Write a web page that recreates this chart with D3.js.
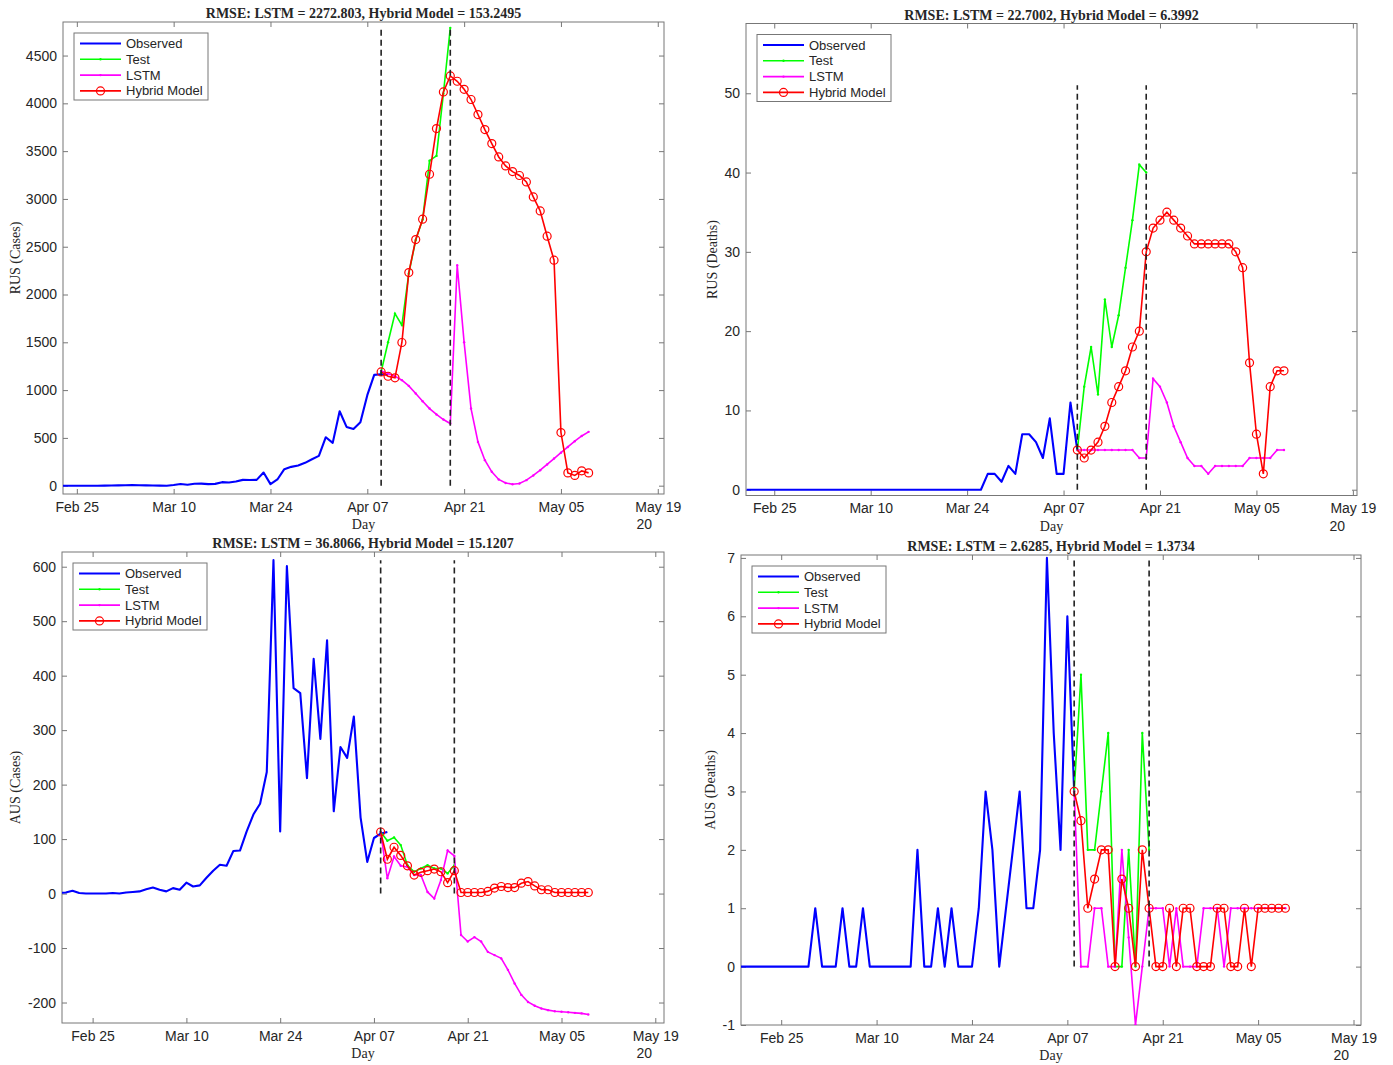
<!DOCTYPE html>
<html>
<head>
<meta charset="utf-8">
<script src="https://cdn.jsdelivr.net/npm/d3@7"></script>
<style>
body { margin: 0; background: #fff; }
svg text { fill: #262626; }
</style>
</head>
<body>
<svg id="chart" width="1393" height="1065"></svg>
<script>
// day numbers count from Feb 25 2020 (day 0), one value per day

var xTickDays = [0, 14, 28, 42, 56, 70, 84]
var legendLabels = ["Observed", "Test", "LSTM", "Hybrid Model"]

// RUS cases
var rusCasesTitle = "RMSE: LSTM = 2272.803, Hybrid Model = 153.2495"
var rusCasesObsStart = -2
var rusCasesObserved = [0, 0, 0, 0, 0, 0, 1, 2, 3, 5, 6, 4, 3, 2, 1, 0, 7, 17, 10, 20, 22, 16, 19, 37, 33, 44, 61, 60, 61, 138,
    16, 65, 173, 197, 211, 239, 277, 312, 507, 448, 779, 615, 594, 664, 947, 1159, 1166, 1160]
var rusCasesFcStart = 44
var rusCasesTest = [1190, 1500, 1800, 1680, 2220, 2570, 2785, 3400, 3450, 4100, 4790]
var rusCasesLSTM = [1201, 1174, 1145, 1104, 1044, 964, 884, 807, 745, 692, 650, 2306, 1500, 807, 458, 267, 145, 65, 28, 15,
    23, 58, 107, 162, 222, 284, 345, 405, 465, 520, 563]
var rusCasesHybrid = [1190, 1145, 1128, 1498, 2230, 2575, 2788, 3258, 3736, 4119, 4287, 4231, 4147, 4040, 3883, 3726, 3579,
    3439, 3345, 3286, 3245, 3178, 3021, 2874, 2610, 2359, 556, 134, 107, 155, 134]
var rusCasesCuts = [44, 54]
var rusCasesCutSpan = [0, 4800]

// RUS deaths
var rusDeathsTitle = "RMSE: LSTM = 22.7002, Hybrid Model = 6.3992"
var rusDeathsObsStart = -4
var rusDeathsObserved = [0, 0, 0, 0, 0, 0, 0, 0, 0, 0, 0, 0, 0, 0, 0, 0, 0, 0, 0, 0, 0, 0, 0, 0, 0, 0, 0, 0, 0, 0, 0, 0, 0, 0, 0,
    2, 2, 1, 3, 2, 7, 7, 6, 4, 9, 2, 2, 11, 5]
var rusDeathsFcStart = 44
var rusDeathsTest = [5, 13, 18, 12, 24, 18, 22, 28, 34, 41, 40]
var rusDeathsLSTM = [5, 5, 5, 5, 5, 5, 5, 5, 5, 4, 4, 14, 13, 11, 8, 6, 4, 3, 3, 2, 3, 3, 3, 3, 3, 4, 4, 4, 4, 5, 5]
var rusDeathsHybrid = [5, 4, 5, 6, 8, 11, 13, 15, 18, 20, 30, 33, 34, 35, 34, 33, 32, 31, 31, 31, 31, 31, 31, 30, 28, 16, 7, 2,
    13, 15, 15]
var rusDeathsCuts = [44, 54]
var rusDeathsCutSpan = [0, 51]

// AUS cases
var ausCasesTitle = "RMSE: LSTM = 36.8066, Hybrid Model = 15.1207"
var ausCasesObsStart = -5
var ausCasesObserved = [1, 2, 5, 1, 0, 0, 0, 0, 1, 0, 2, 3, 4, 8, 11, 7, 4, 10, 7, 20, 13, 15, 29, 42, 53, 51, 78, 79, 114, 145,
    165, 223, 612, 114, 601, 377, 368, 212, 431, 284, 465, 151, 269, 249, 325, 140, 58, 102, 110, 113]
var ausCasesFcStart = 43
var ausCasesTest = [113, 97, 103, 89, 52, 40, 46, 52, 46, 46, 37, 52]
var ausCasesLSTM = [113, 28, 68, 51, 49, 34, 34, 3, -9, 25, 79, 69, -76, -88, -80, -88, -107, -113, -119, -140, -165, -186,
    -199, -206, -211, -214, -216, -217, -218, -219, -220, -222]
var ausCasesHybrid = [113, 63, 85, 70, 51, 34, 39, 42, 45, 40, 20, 42, 2, 2, 2, 2, 4, 10, 13, 11, 11, 19, 22, 14, 7, 7, 2, 2,
    2, 2, 2, 2]
var ausCasesCuts = [43, 54]
var ausCasesCutSpan = [0, 612]

// AUS deaths
var ausDeathsTitle = "RMSE: LSTM = 2.6285, Hybrid Model = 1.3734"
var ausDeathsObsStart = -6
var ausDeathsObserved = [0, 0, 0, 0, 0, 0, 0, 0, 0, 0, 0, 1, 0, 0, 0, 1, 0, 0, 1, 0, 0, 0, 0, 0, 0, 0, 2, 0, 0, 1, 0, 1, 0, 0,
    0, 1, 3, 2, 0, 1, 2, 3, 1, 1, 2, 7, 4, 2, 6, 3]
var ausDeathsFcStart = 43
var ausDeathsTest = [3, 5, 2, 2, 3, 4, 0, 0, 2, 0, 4, 2]
var ausDeathsLSTM = [3, 0, 0, 1, 1, 0, 0, 2, 0.5, -1, 0, 1, 1, 1, 0, 1, 0, 0, 0, 1, 1, 1, 0, 1, 1, 1, 1, 1, 1, 1, 1, 1]
var ausDeathsHybrid = [3, 2.5, 1, 1.5, 2, 2, 0, 1.5, 1, 0, 2, 1, 0, 0, 1, 0, 1, 1, 0, 0, 0, 1, 1, 0, 0, 1, 0, 1, 1, 1, 1, 1]
var ausDeathsCuts = [43, 54]
var ausDeathsCutSpan = [0, 7]

var colors = { observed: "#0000ff", test: "#00ff00", lstm: "#ff00ff", hybrid: "#ff0000" }
var sansFont = "'Liberation Sans', Arial, Helvetica, sans-serif"
var serifFont = "'Liberation Serif', 'Times New Roman', serif"

var day0 = Date.UTC(2020, 1, 25)
function dayToDate(d) {
    return new Date(day0 + d * 864e5)
}

function series(values, start) {
    return values.map(function(v, i) { return { day: start + i, v: v } })
}

var panels = [
    { box: { l: 63, t: 22, r: 664, b: 494 }, xDom: [-2, 84.9], yDom: [-87, 4851], yTicks: d3.range(0, 4501, 500),
      title: rusCasesTitle, ylabel: "RUS (Cases)", ylabelX: 15,
      obs: series(rusCasesObserved, rusCasesObsStart), test: series(rusCasesTest, rusCasesFcStart),
      lstm: series(rusCasesLSTM, rusCasesFcStart), hybrid: series(rusCasesHybrid, rusCasesFcStart),
      cuts: rusCasesCuts, cutSpan: rusCasesCutSpan },
    { box: { l: 746, t: 23.5, r: 1357, b: 495.5 }, xDom: [-4.1, 84.6], yDom: [-0.73, 58.8], yTicks: d3.range(0, 51, 10),
      title: rusDeathsTitle, ylabel: "RUS (Deaths)", ylabelX: 712,
      obs: series(rusDeathsObserved, rusDeathsObsStart), test: series(rusDeathsTest, rusDeathsFcStart),
      lstm: series(rusDeathsLSTM, rusDeathsFcStart), hybrid: series(rusDeathsHybrid, rusDeathsFcStart),
      cuts: rusDeathsCuts, cutSpan: rusDeathsCutSpan },
    { box: { l: 62, t: 552, r: 664, b: 1023 }, xDom: [-4.57, 85.3], yDom: [-237.6, 627], yTicks: d3.range(-200, 601, 100),
      title: ausCasesTitle, ylabel: "AUS (Cases)", ylabelX: 15,
      obs: series(ausCasesObserved, ausCasesObsStart), test: series(ausCasesTest, ausCasesFcStart),
      lstm: series(ausCasesLSTM, ausCasesFcStart), hybrid: series(ausCasesHybrid, ausCasesFcStart),
      cuts: ausCasesCuts, cutSpan: ausCasesCutSpan },
    { box: { l: 741, t: 555, r: 1361, b: 1025 }, xDom: [-5.9, 85.1], yDom: [-1, 7.05], yTicks: d3.range(-1, 8, 1),
      title: ausDeathsTitle, ylabel: "AUS (Deaths)", ylabelX: 710,
      obs: series(ausDeathsObserved, ausDeathsObsStart), test: series(ausDeathsTest, ausDeathsFcStart),
      lstm: series(ausDeathsLSTM, ausDeathsFcStart), hybrid: series(ausDeathsHybrid, ausDeathsFcStart),
      cuts: ausDeathsCuts, cutSpan: ausDeathsCutSpan }
]

var svg = d3.select("#chart")
panels.forEach(function(p, i) { drawPanel(svg, p, i) })

function styleAxis(sel) {
    sel.select(".domain").remove()
    sel.selectAll(".tick line").attr("stroke", "#777")
    sel.selectAll(".tick text").attr("font-family", sansFont).attr("font-size", 14).attr("fill", "#262626")
}

function drawPanel(svg, p, idx) {
    var b = p.box
    var g = svg.append("g")
    var x = d3.scaleUtc().domain(p.xDom.map(dayToDate)).range([b.l, b.r])
    var y = d3.scaleLinear().domain(p.yDom).range([b.b, b.t])
    var xTicks = xTickDays.map(dayToDate)

    g.append("clipPath").attr("id", "clip" + idx)
        .append("rect").attr("x", b.l).attr("y", b.t).attr("width", b.r - b.l).attr("height", b.b - b.t)

    // axes, ticks pointing inwards on all four sides like matlab
    g.append("g").attr("transform", "translate(0," + b.b + ")")
        .call(d3.axisBottom(x).tickValues(xTicks).tickFormat(d3.utcFormat("%b %d"))
            .tickSizeInner(-5).tickSizeOuter(0).tickPadding(8))
        .call(styleAxis)
    g.append("g").attr("transform", "translate(0," + b.t + ")")
        .call(d3.axisTop(x).tickValues(xTicks).tickFormat("").tickSizeInner(-5).tickSizeOuter(0))
        .call(styleAxis)
    g.append("g").attr("transform", "translate(" + b.l + ",0)")
        .call(d3.axisLeft(y).tickValues(p.yTicks).tickFormat(function(d) { return String(d) })
            .tickSizeInner(-5).tickSizeOuter(0).tickPadding(6))
        .call(styleAxis)
    g.append("g").attr("transform", "translate(" + b.r + ",0)")
        .call(d3.axisRight(y).tickValues(p.yTicks).tickFormat("").tickSizeInner(-5).tickSizeOuter(0))
        .call(styleAxis)

    g.append("rect").attr("x", b.l).attr("y", b.t).attr("width", b.r - b.l).attr("height", b.b - b.t)
        .attr("fill", "none").attr("stroke", "#777").attr("stroke-width", 1)

    var line = d3.line()
        .x(function(d) { return x(dayToDate(d.day)) })
        .y(function(d) { return y(d.v) })

    var plot = g.append("g").attr("clip-path", "url(#clip" + idx + ")")

    plot.append("path").datum(p.obs).attr("d", line)
        .attr("fill", "none").attr("stroke", colors.observed).attr("stroke-width", 2.1).attr("stroke-linejoin", "round")

    plot.append("path").datum(p.test).attr("d", line)
        .attr("fill", "none").attr("stroke", colors.test).attr("stroke-width", 1.6)
    plot.selectAll(".tdot").data(p.test).enter().append("circle")
        .attr("cx", function(d) { return x(dayToDate(d.day)) }).attr("cy", function(d) { return y(d.v) })
        .attr("r", 1.2).attr("fill", colors.test)

    plot.append("path").datum(p.lstm).attr("d", line)
        .attr("fill", "none").attr("stroke", colors.lstm).attr("stroke-width", 1.6)
    plot.selectAll(".ldot").data(p.lstm).enter().append("circle")
        .attr("cx", function(d) { return x(dayToDate(d.day)) }).attr("cy", function(d) { return y(d.v) })
        .attr("r", 1.2).attr("fill", colors.lstm)

    plot.append("path").datum(p.hybrid).attr("d", line)
        .attr("fill", "none").attr("stroke", colors.hybrid).attr("stroke-width", 1.6)
    plot.selectAll(".hdot").data(p.hybrid).enter().append("circle")
        .attr("cx", function(d) { return x(dayToDate(d.day)) }).attr("cy", function(d) { return y(d.v) })
        .attr("r", 4).attr("fill", "none").attr("stroke", colors.hybrid).attr("stroke-width", 1.2)

    // train / test split markers
    p.cuts.forEach(function(c) {
        plot.append("line")
            .attr("x1", x(dayToDate(c))).attr("x2", x(dayToDate(c)))
            .attr("y1", y(p.cutSpan[0])).attr("y2", y(p.cutSpan[1]))
            .attr("stroke", "#222").attr("stroke-width", 1.6).attr("stroke-dasharray", "6,4")
    })

    // titles and labels
    var cx = (b.l + b.r) / 2
    g.append("text").attr("x", cx).attr("y", b.t - 4).attr("text-anchor", "middle")
        .attr("font-family", serifFont).attr("font-weight", "bold").attr("font-size", 14).text(p.title)
    g.append("text").attr("x", cx).attr("y", b.b + 35).attr("text-anchor", "middle")
        .attr("font-family", serifFont).attr("font-size", 14).text("Day")
    g.append("text").attr("x", b.r - 12).attr("y", b.b + 35).attr("text-anchor", "end")
        .attr("font-family", sansFont).attr("font-size", 14).text("20")
    g.append("text").attr("transform", "translate(" + p.ylabelX + "," + ((b.t + b.b) / 2) + ") rotate(-90)")
        .attr("text-anchor", "middle").attr("dy", "0.35em")
        .attr("font-family", serifFont).attr("font-size", 14).text(p.ylabel)

    drawLegend(g, b.l + 11, b.t + 11)
}

function drawLegend(g, lx, ly) {
    var lg = g.append("g").attr("transform", "translate(" + lx + "," + ly + ")")
    lg.append("rect").attr("width", 134).attr("height", 67)
        .attr("fill", "#fff").attr("stroke", "#777").attr("stroke-width", 1)
    var keys = ["observed", "test", "lstm", "hybrid"]
    keys.forEach(function(k, i) {
        var ry = 10.5 + i * 15.8
        lg.append("line").attr("x1", 6).attr("x2", 47).attr("y1", ry).attr("y2", ry)
            .attr("stroke", colors[k]).attr("stroke-width", k == "observed" ? 2.1 : 1.6)
        if (k == "hybrid")
            lg.append("circle").attr("cx", 26.5).attr("cy", ry).attr("r", 4)
                .attr("fill", "none").attr("stroke", colors[k]).attr("stroke-width", 1.2)
        else if (k != "observed")
            lg.append("circle").attr("cx", 26.5).attr("cy", ry).attr("r", 1.2).attr("fill", colors[k])
        lg.append("text").attr("x", 52).attr("y", ry).attr("dy", "0.35em")
            .attr("font-family", sansFont).attr("font-size", 13).text(legendLabels[i])
    })
}
</script>
</body>
</html>
